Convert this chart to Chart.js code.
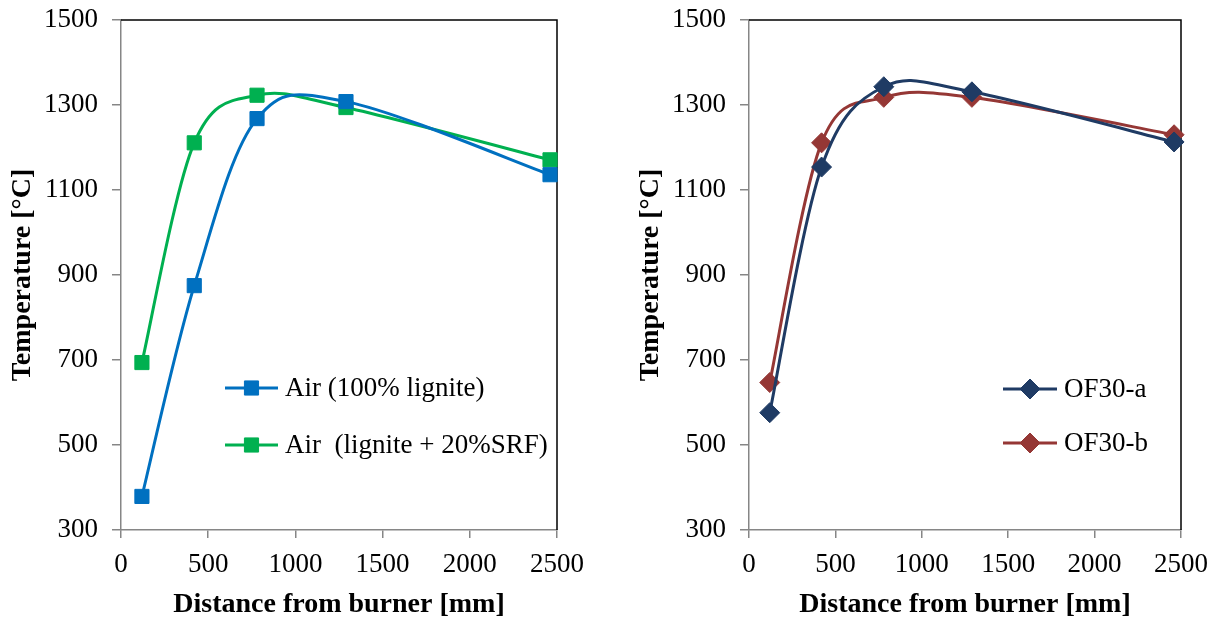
<!DOCTYPE html>
<html>
<head>
<meta charset="utf-8">
<script src="https://cdn.jsdelivr.net/npm/chart.js@4.4.1/dist/chart.umd.min.js"></script>
<style>
    html, body { margin: 0; padding: 0; background: #fff; }
    #wrap { position: relative; width: 1219px; height: 623px; }
    canvas { position: absolute; top: 0; }
</style>
</head>
<body>
<div id="wrap">
    <canvas id="leftChart" width="609" height="623" style="left:0"></canvas>
    <canvas id="rightChart" width="610" height="623" style="left:609px"></canvas>
</div>
<script>
// values
const distance = [120, 420, 780, 1290, 2460];
const airLignite = [379, 875, 1268, 1308, 1136];
const airSrf = [694, 1211, 1323, 1294, 1171];
const of30a = [576, 1154, 1343, 1331, 1213];
const of30b = [647, 1211, 1318, 1318, 1230];

const xTicks = [0, 500, 1000, 1500, 2000, 2500];
const yTicks = [300, 500, 700, 900, 1100, 1300, 1500];

const leftLabels = ['Air (100% lignite)', 'Air  (lignite + 20%SRF)'];
const rightLabels = ['OF30-a', 'OF30-b'];

const FONT = "'Liberation Serif', 'Times New Roman', serif";
const axisGray = '#868686';

function toPoints(ys) {
    return distance.map((x, i) => ({ x: x, y: ys[i] }));
}

function makeSet(label, values, color, style, radius) {
    return {
        label: label,
        data: toPoints(values),
        borderColor: color,
        backgroundColor: color,
        borderWidth: 3,
        tension: 0.4,
        pointStyle: style,
        pointRadius: radius,
        pointBackgroundColor: color,
        pointBorderColor: color,
        pointBorderWidth: 1,
        clip: false
    };
}

// excel-like smoothing: catmull-rom tangents (1/6 of neighbour span)
const excelSmooth = {
    id: 'excelSmooth',
    beforeDatasetDraw: (chart, args) => {
        const meta = args.meta;
        if (!meta.dataset) return;
        meta.dataset.updateControlPoints(chart.chartArea, 'x');
        const pts = meta.data;
        const n = pts.length;
        for (let i = 0; i < n; i++) {
            const p = pts[i];
            const prev = pts[Math.max(0, i - 1)];
            const next = pts[Math.min(n - 1, i + 1)];
            const tx = (next.x - prev.x) / 6;
            const ty = (next.y - prev.y) / 6;
            p.cp1x = p.x - tx;
            p.cp1y = p.y - ty;
            p.cp2x = p.x + tx;
            p.cp2y = p.y + ty;
        }
    }
};

// black top/right frame of the plot area
const framePlugin = {
    id: 'frame',
    beforeDatasetsDraw: chart => {
        const a = chart.chartArea;
        const ctx = chart.ctx;
        ctx.save();
        ctx.strokeStyle = '#000';
        ctx.lineWidth = 1.5;
        ctx.beginPath();
        ctx.moveTo(a.left, a.top);
        ctx.lineTo(a.right, a.top);
        ctx.lineTo(a.right, a.bottom);
        ctx.stroke();
        ctx.restore();
    }
};

// legend drawn inside the plot like the excel one
const innerLegend = {
    id: 'innerLegend',
    afterDraw: (chart, args, opts) => {
        const ctx = chart.ctx;
        chart.data.datasets.forEach((ds, i) => {
            const x = opts.x;
            const y = opts.y[i];
            ctx.save();
            ctx.strokeStyle = ds.borderColor;
            ctx.lineWidth = 3;
            ctx.beginPath();
            ctx.moveTo(x, y);
            ctx.lineTo(x + opts.lineLen, y);
            ctx.stroke();
            ctx.fillStyle = ds.borderColor;
            ctx.lineWidth = 1;
            Chart.helpers.drawPoint(ctx, {
                pointStyle: ds.pointStyle,
                radius: ds.pointRadius,
                rotation: 0,
                borderWidth: 1
            }, x + opts.lineLen / 2, y);
            ctx.fillStyle = '#000';
            ctx.font = opts.font;
            ctx.textBaseline = 'middle';
            ctx.textAlign = 'left';
            ctx.fillText(ds.label, x + opts.lineLen + 7, y + 1);
            ctx.restore();
        });
    }
};

function makeConfig(datasets, padLeft, padRight, yWidth, legendOpts) {
    return {
        type: 'line',
        data: { datasets: datasets },
        options: {
            responsive: false,
            animation: false,
            layout: { padding: { top: 20, right: padRight, left: padLeft, bottom: 0 } },
            plugins: {
                legend: { display: false },
                tooltip: { enabled: false },
                innerLegend: legendOpts
            },
            scales: {
                x: {
                    type: 'linear',
                    min: 0,
                    max: 2500,
                    afterBuildTicks: s => { s.ticks = xTicks.map(v => ({ value: v })); },
                    afterFit: s => { s.height = 93; },
                    grid: { display: true, drawOnChartArea: false, drawTicks: true, tickLength: 8, color: axisGray, lineWidth: 1.5 },
                    border: { display: true, color: axisGray, width: 1.5 },
                    ticks: {
                        color: '#000', font: { family: FONT, size: 27 }, padding: 11, maxRotation: 0,
                        callback: v => String(v)
                    },
                    title: {
                        display: true,
                        text: 'Distance from burner [mm]',
                        color: '#000',
                        font: { family: FONT, size: 28, weight: 'bold' },
                        padding: { top: 0, bottom: 1 }
                    }
                },
                y: {
                    min: 300,
                    max: 1500,
                    afterBuildTicks: s => { s.ticks = yTicks.map(v => ({ value: v })); },
                    afterFit: s => {
                        s.width = yWidth;
                        s.paddingTop = 0;
                        s.paddingBottom = 0;
                    },
                    grid: { display: true, drawOnChartArea: false, drawTicks: true, tickLength: 9, color: axisGray, lineWidth: 1.5 },
                    border: { display: true, color: axisGray, width: 1.5 },
                    ticks: {
                        color: '#000', font: { family: FONT, size: 27 }, padding: 14,
                        callback: v => String(v)
                    },
                    title: {
                        display: true,
                        text: 'Temperature [°C]',
                        color: '#000',
                        font: { family: FONT, size: 28, weight: 'bold' },
                        padding: { top: 6, bottom: 0 }
                    }
                }
            }
        },
        plugins: [excelSmooth, framePlugin, innerLegend]
    };
}

new Chart(document.getElementById('leftChart'), makeConfig(
    [
        makeSet(leftLabels[0], airLignite, '#0070C0', 'rect', 10),
        makeSet(leftLabels[1], airSrf, '#00B050', 'rect', 10)
    ],
    0, 52, 121,
    { x: 225, y: [388, 445], lineLen: 53, font: '27px ' + FONT }
));

new Chart(document.getElementById('rightChart'), makeConfig(
    [
        makeSet(rightLabels[0], of30a, '#1F3B64', 'rectRot', 10),
        makeSet(rightLabels[1], of30b, '#953735', 'rectRot', 10)
    ],
    19, 34, 121,
    { x: 394, y: [389, 443], lineLen: 54, font: '27px ' + FONT }
));
</script>
</body>
</html>
